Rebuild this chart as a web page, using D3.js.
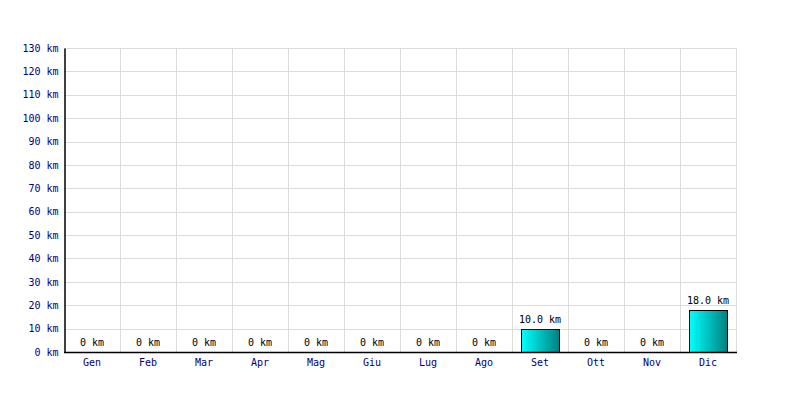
<!DOCTYPE html>
<html>
<head>
<meta charset="utf-8">
<script src="https://cdn.jsdelivr.net/npm/d3@7"></script>
<style>
  body { margin: 0; background: #fff; }
  svg { display: block; }
  text { font-family: "DejaVu Sans Mono", monospace; font-size: 10px; }
</style>
</head>
<body>
<svg id="chart" width="800" height="400"></svg>
<script>
const months = ["Gen","Feb","Mar","Apr","Mag","Giu","Lug","Ago","Set","Ott","Nov","Dic"];
const values = [0,0,0,0,0,0,0,0,10.0,0,0,18.0];
const yTicks = [0,10,20,30,40,50,60,70,80,90,100,110,120,130];

(function () {
const svg = d3.select("#chart");
const pLeft = 64, pRight = 736, pTop = 48, pBottom = 352;

const x = d3.scaleBand().domain(months).range([pLeft, pRight]).paddingInner(0).paddingOuter(0);
const y = d3.scaleLinear().domain([0, 130]).range([pBottom, pTop]);

const defs = svg.append("defs");
const grad = defs.append("linearGradient").attr("id", "barGrad")
  .attr("x1", "0%").attr("x2", "100%").attr("y1", "0%").attr("y2", "0%");
grad.append("stop").attr("offset", "0%").attr("stop-color", "#00ffff");
grad.append("stop").attr("offset", "100%").attr("stop-color", "#008080");

// horizontal grid
svg.append("g").selectAll("line").data(yTicks).join("line")
  .attr("x1", pLeft).attr("x2", pRight + 0.5)
  .attr("y1", d => Math.round(y(d)) + 0.5).attr("y2", d => Math.round(y(d)) + 0.5)
  .attr("stroke", "#dcdcdc").attr("stroke-width", 1);

// vertical grid
svg.append("g").selectAll("line").data(months).join("line")
  .attr("x1", d => x(d) + x.bandwidth() + 0.5).attr("x2", d => x(d) + x.bandwidth() + 0.5)
  .attr("y1", pTop).attr("y2", pBottom)
  .attr("stroke", "#dcdcdc").attr("stroke-width", 1);

// bars
const barW = 38;
svg.append("g").selectAll("rect").data(months.map((m, i) => ({m, v: values[i]})).filter(d => d.v > 0)).join("rect")
  .attr("x", d => x(d.m) + x.bandwidth() / 2 - barW / 2 + 0.5)
  .attr("y", d => Math.round(y(d.v)) + 0.5)
  .attr("width", barW)
  .attr("height", d => pBottom - Math.round(y(d.v)))
  .attr("fill", "url(#barGrad)")
  .attr("stroke", "#000").attr("stroke-width", 1);

// value labels
svg.append("g").selectAll("text").data(months.map((m, i) => ({m, v: values[i]}))).join("text")
  .attr("x", d => x(d.m) + x.bandwidth() / 2)
  .attr("y", d => y(d.v) - 6)
  .attr("text-anchor", "middle")
  .attr("fill", "#000")
  .text(d => d.v > 0 ? d.v.toFixed(1) + " km" : "0 km");

// y axis
const yAxis = svg.append("g").attr("transform", `translate(${pLeft + 0.5},0)`)
  .call(d3.axisLeft(y).tickValues(yTicks).tickSize(0).tickPadding(6).tickFormat(d => d + " km"));
yAxis.select(".domain").attr("stroke", "#000").attr("stroke-width", 1.5);
yAxis.selectAll("text").attr("fill", "#000080").style("font-family", '"DejaVu Sans Mono", monospace').style("font-size", "10px");

// x axis
const xAxis = svg.append("g").attr("transform", `translate(0,${pBottom + 0.5})`)
  .call(d3.axisBottom(x).tickSize(0).tickPadding(6));
xAxis.select(".domain").attr("stroke", "#000").attr("stroke-width", 1.5).attr("d", `M${pLeft},0H${pRight + 1}`);
xAxis.selectAll("text").attr("fill", "#000080").style("font-family", '"DejaVu Sans Mono", monospace').style("font-size", "10px");
})();
</script>
</body>
</html>
